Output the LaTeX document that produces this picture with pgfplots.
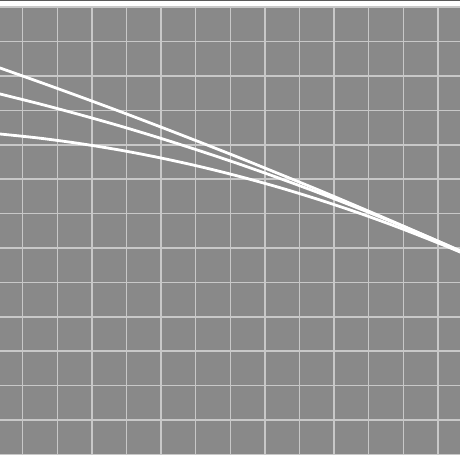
\documentclass[border=0pt]{standalone}
\usepackage{pgfplots}
\pgfplotsset{compat=1.18}
\definecolor{panel}{RGB}{137,137,137}
\definecolor{gridc}{RGB}{200,200,200}
\begin{document}
\begin{tikzpicture}
\useasboundingbox (0,0) rectangle (460pt,460pt);
\fill[white] (0,0) rectangle (460pt,460pt);
\draw[color=gray!70!black,line width=1pt] (0,459.5pt) -- (460pt,459.5pt);
\begin{axis}[
  at={(0pt,5pt)}, anchor=south west,
  scale only axis, width=460pt, height=449pt,
  xmin=0, xmax=460, ymin=-455, ymax=-6,
  axis background/.style={fill=panel},
  axis line style={draw=none},
  xtick={22.7,57.3,91.9,126.5,161.1,195.7,230.3,264.9,299.5,334.1,368.7,403.3,437.9},
  ytick={-454.4,-420,-385.6,-351.2,-316.8,-282.4,-248,-213.6,-179.2,-144.8,-110.4,-76,-41.6,-7.2},
  xticklabels={}, yticklabels={},
  major tick length=0pt,
  grid=major,
  major grid style={color=gridc,line width=1.5pt},
]
\addplot[white,line width=2.8pt,smooth] coordinates {(-20,-61) (0,-68) (40,-82.2) (80,-96.7) (120,-111.5) (160,-126.7) (200,-142.2) (240,-158.0) (280,-174.2) (320,-190.6) (360,-207.5) (400,-224.6) (440,-242.1) (460,-251.0) (480,-260.1)};
\addplot[white,line width=2.8pt,smooth] coordinates {(-20,-89.3) (0,-94) (40,-104.0) (80,-114.7) (120,-126.0) (160,-138.1) (200,-150.9) (240,-164.3) (280,-178.5) (320,-193.3) (360,-208.9) (400,-225.1) (440,-242.0) (460,-250.8) (480,-259.7)};
\addplot[white,line width=2.8pt,smooth] coordinates {(-20,-132.3) (0,-134) (40,-138.2) (80,-143.6) (120,-150.1) (160,-157.8) (200,-166.6) (240,-176.6) (280,-187.7) (320,-200.0) (360,-213.4) (400,-228.0) (440,-243.7) (460,-252.0) (480,-260.5)};
\end{axis}
\end{tikzpicture}
\end{document}
